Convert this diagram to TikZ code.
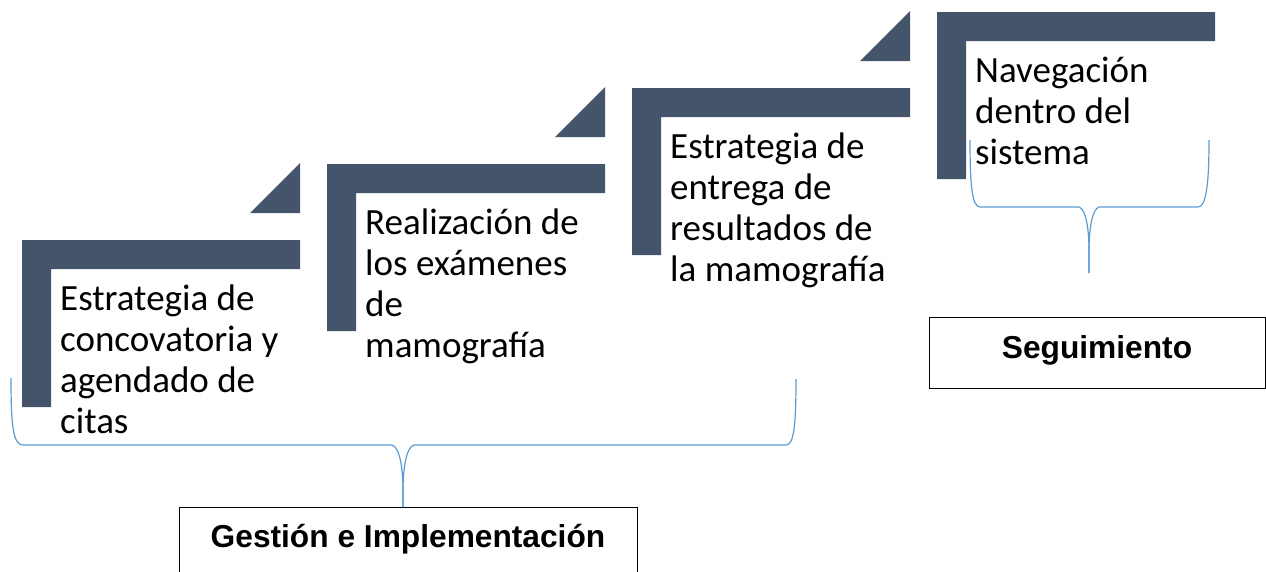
\documentclass[tikz,border=0pt]{standalone}
\usepackage{fontspec}
\setmainfont{Carlito}
\newfontfamily\arialfont{Liberation Sans}
\definecolor{slate}{HTML}{44546A}
\definecolor{bracecol}{HTML}{5B9BD5}
\begin{document}
\begin{tikzpicture}[x=1pt,y=-1pt,
  stepbar/.style={fill=slate},
  steptext/.style={anchor=base west,inner sep=0pt,align=left,font=\fontsize{37}{41}\selectfont},
  brace/.style={draw=bracecol,line width=1.2pt},
  phasebox/.style={draw=black,line width=1pt,inner sep=0pt},
  phasetext/.style={inner sep=0pt,font=\arialfont\bfseries\fontsize{31.7}{36}\selectfont}]
\useasboundingbox (0,0) rectangle (1266,571);
\coordinate(S1) at (22,240);
\coordinate(S2) at (327,164);
\coordinate(S3) at (632,88);
\coordinate(S4) at (937,12);
\fill[stepbar](S1)-- ++(278,0)-- ++(0,29)-- ++(-249,0)-- ++(0,138)-- ++(-29,0)--cycle;
\fill[stepbar](S2)-- ++(278,0)-- ++(0,29)-- ++(-249,0)-- ++(0,138)-- ++(-29,0)--cycle;
\fill[stepbar](S3)-- ++(278,0)-- ++(0,29)-- ++(-249,0)-- ++(0,138)-- ++(-29,0)--cycle;
\fill[stepbar](S4)-- ++(278,0)-- ++(0,29)-- ++(-249,0)-- ++(0,138)-- ++(-29,0)--cycle;
\fill[stepbar]([shift={(228,-27)}]S1)-- ++(50,0)-- ++(0,-50)--cycle;
\fill[stepbar]([shift={(228,-27)}]S2)-- ++(50,0)-- ++(0,-50)--cycle;
\fill[stepbar]([shift={(228,-27)}]S3)-- ++(50,0)-- ++(0,-50)--cycle;
\node[steptext](T1) at ([shift={(38,193)}]S1) {Estrategia de\\concovatoria y\\agendado de\\citas};
\node[steptext](T2) at ([shift={(38,193)}]S2) {Realización de\\los exámenes\\de\\mamografía};
\node[steptext](T3) at ([shift={(38,193)}]S3) {Estrategia de\\entrega de\\resultados de\\la mamografía};
\node[steptext](T4) at ([shift={(38,152)}]S4) {Navegación\\dentro del\\sistema};
\node[phasebox,minimum width=458pt,minimum height=74pt,anchor=north](gestion) at (408,507) {};
\node[phasetext] at ([yshift=-32pt]gestion.north) {Gestión e Implementación};
\node[phasebox,minimum width=336pt,minimum height=71pt](seguim) at (1097,352.5) {};
\node[phasetext] at ([yshift=2pt]seguim.center) {Seguimiento};
\coordinate(G) at ([xshift=-5pt]gestion.north);
\coordinate(N) at (1089,273);
\draw[brace](11,378) .. controls (11,425) and (13,445) .. (23,445)--(392,445)
  .. controls (400,447) and (403,470) .. (403,490)--(G);
\draw[brace](G)--(403,490) .. controls (403,470) and (406,447) .. (414,445)--(786,445)
  .. controls (794,445) and (796,425) .. (796,379);
\draw[brace](970,140) .. controls (970,185) and (972,207) .. (980,207)--(1079,207)
  .. controls (1086,209) and (1089,230) .. (1089,250)--(N);
\draw[brace](N)--(1089,250) .. controls (1089,230) and (1092,209) .. (1099,207)--(1198,207)
  .. controls (1206,207) and (1209,185) .. (1209,140);
\end{tikzpicture}
\end{document}
